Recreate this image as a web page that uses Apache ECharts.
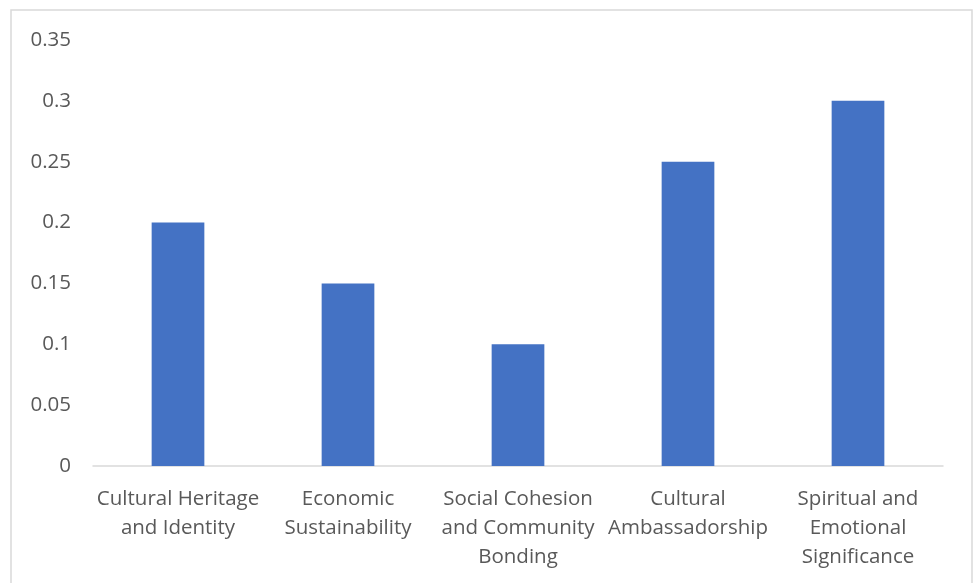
<!DOCTYPE html>
<html>
<head>
<meta charset="utf-8">
<script src="https://cdn.jsdelivr.net/npm/echarts@6/dist/echarts.min.js"></script>
<style>
html,body{margin:0;padding:0;background:#fff;}
#c{width:977px;height:583px;}
</style>
</head>
<body>
<div id="c"></div>
<script>
const categories = [
  "Cultural Heritage\nand Identity",
  "Economic\nSustainability",
  "Social Cohesion\nand Community\nBonding",
  "Cultural\nAmbassadorship",
  "Spiritual and\nEmotional\nSignificance"
];
const values = [0.2, 0.15, 0.1, 0.25, 0.3];
const yTicks = [0, 0.05, 0.1, 0.15, 0.2, 0.25, 0.3, 0.35];

const chart = echarts.init(document.getElementById('c'), null, {renderer: 'canvas'});
const font = 'Open Sans, Liberation Sans, sans-serif';
chart.setOption({
  animation: false,
  backgroundColor: '#fff',
  graphic: [{
    type: 'rect',
    shape: {x: 11, y: 10, width: 961, height: 600},
    style: {fill: 'none', stroke: '#d9d9d9', lineWidth: 1.5},
    silent: true
  }],
  grid: {left: 93, right: 34, top: 40, bottom: 117, containLabel: false},
  xAxis: {
    type: 'category',
    data: categories,
    axisLine: {show: true, lineStyle: {color: '#d9d9d9', width: 1.5}},
    axisTick: {show: false},
    axisLabel: {
      interval: 0,
      color: '#595959',
      fontFamily: font,
      fontSize: 20.5,
      lineHeight: 29,
      margin: 19
    }
  },
  yAxis: {
    type: 'value',
    min: 0,
    max: 0.35,
    interval: 0.05,
    splitLine: {show: false},
    axisLine: {show: false},
    axisTick: {show: false},
    axisLabel: {
      color: '#595959',
      fontFamily: font,
      fontSize: 20.5,
      margin: 22,
      formatter: function (v) {
        const t = yTicks.find(x => Math.abs(x - v) < 1e-9);
        return t === undefined ? '' : String(+t.toFixed(2));
      }
    }
  },
  series: [{
    type: 'bar',
    data: values,
    barWidth: '31%',
    itemStyle: {color: '#4472c4'}
  }]
});
</script>
</body>
</html>
